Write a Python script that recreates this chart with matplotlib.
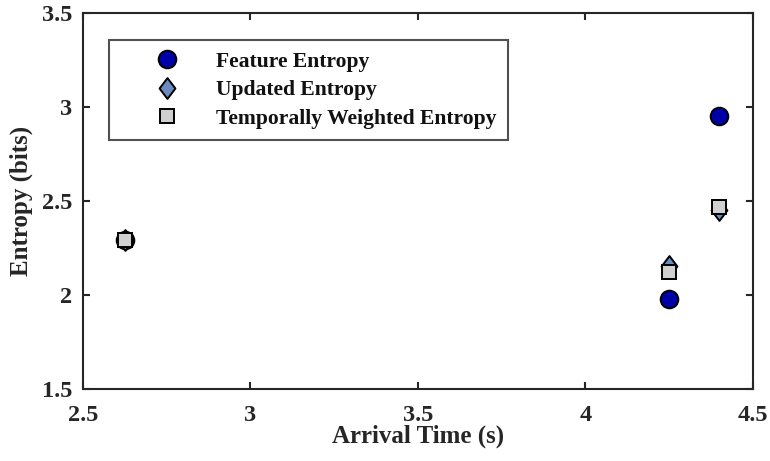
import matplotlib
matplotlib.use("Agg")
import matplotlib.pyplot as plt
from matplotlib.path import Path

plt.rcParams['font.family'] = ['Liberation Serif', 'DejaVu Serif']
plt.rcParams['font.weight'] = 'bold'

arrival = [2.625, 4.25, 4.4]
feature_entropy = [2.29, 1.98, 2.95]
updated_entropy = [2.29, 2.155, 2.45]
temporal_entropy = [2.29, 2.12, 2.47]

diamond = Path([(0, 1), (0.76, 0), (0, -1), (-0.76, 0), (0, 1)],
               [Path.MOVETO, Path.LINETO, Path.LINETO, Path.LINETO, Path.CLOSEPOLY])

fig = plt.figure(figsize=(7.7, 4.61), dpi=100)
ax = fig.add_axes([0.1078, 0.156, 0.870, 0.816])

ax.plot(arrival, feature_entropy, linestyle='none', marker='o', markersize=12.7,
        markerfacecolor='#0000a8', markeredgecolor='black', markeredgewidth=1.4,
        label='Feature Entropy', zorder=3)
ax.plot(arrival, updated_entropy, linestyle='none', marker=diamond, markersize=15,
        markerfacecolor='#6a8ac0', markeredgecolor='black', markeredgewidth=1.4,
        label='Updated Entropy', zorder=4)
ax.plot(arrival, temporal_entropy, linestyle='none', marker='s', markersize=10,
        markerfacecolor='#d0d0d0', markeredgecolor='black', markeredgewidth=1.4,
        label='Temporally Weighted Entropy', zorder=5)

ax.set_xlim(2.5, 4.5)
ax.set_ylim(1.5, 3.5)
ax.set_xticks([2.5, 3, 3.5, 4, 4.5])
ax.set_xticklabels(['2.5', '3', '3.5', '4', '4.5'])
ax.set_yticks([1.5, 2, 2.5, 3, 3.5])
ax.set_yticklabels(['1.5', '2', '2.5', '3', '3.5'])
ax.tick_params(direction='in', top=True, right=True, length=5, width=1.5,
               labelsize=17.5, colors='#262626')
ax.tick_params(axis='x', pad=11.5)
ax.tick_params(axis='y', pad=7.5)
for lbl in ax.get_xticklabels() + ax.get_yticklabels():
    lbl.set_fontweight('bold')
    lbl.set_color('#262626')
for sp in ax.spines.values():
    sp.set_linewidth(1.5)
    sp.set_color('#262626')

ax.set_xlabel('Arrival Time (s)', fontsize=18, fontweight='bold', color='#262626', labelpad=-1.0)
ax.set_ylabel('Entropy (bits)', fontsize=18, fontweight='bold', color='#262626', labelpad=6.5)

leg = ax.legend(loc='upper left', bbox_to_anchor=(0.0388, 0.928),
                frameon=True, fancybox=False, fontsize=15.6, handletextpad=0.1,
                borderpad=0.54, labelspacing=0.38, handlelength=4.3, markerscale=1.0,
                borderaxespad=0)
leg.get_frame().set_edgecolor('#262626')
leg.get_frame().set_linewidth(1.5)
for t in leg.get_texts():
    t.set_fontweight('bold')
    t.set_color('#111111')

fig.savefig('out.png', dpi=100)
